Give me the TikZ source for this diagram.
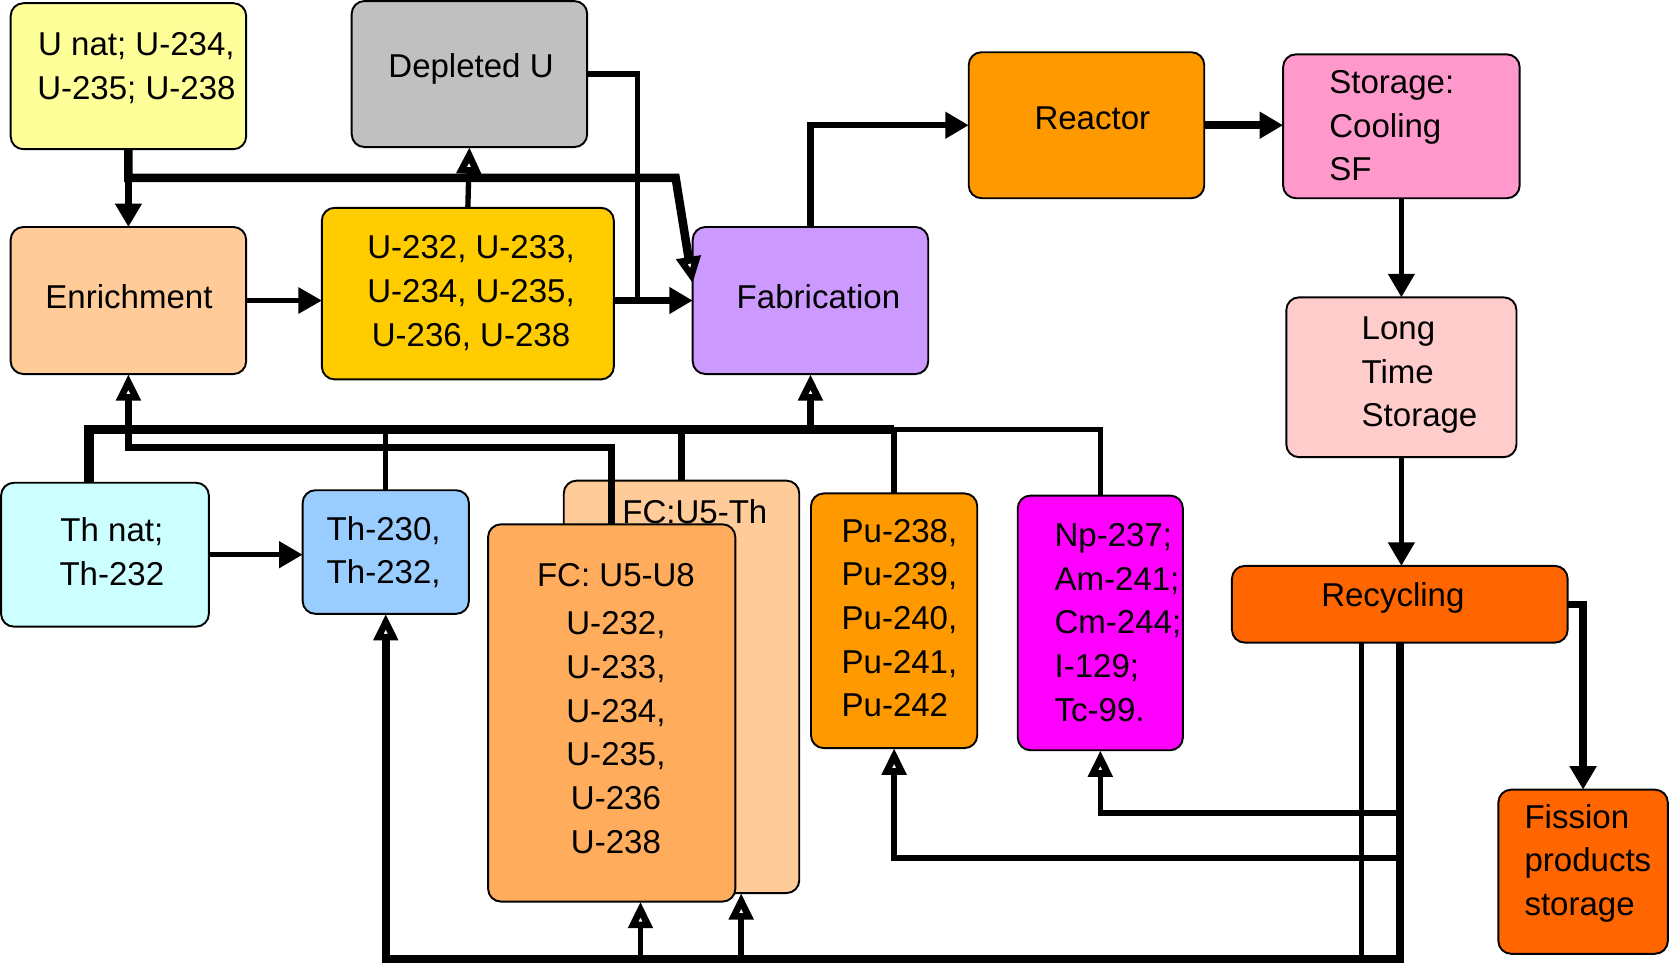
\documentclass[tikz,border=0pt]{standalone}
\usepackage{fontspec}
\setmainfont{Liberation Sans}
\usetikzlibrary{arrows.meta}
\definecolor{unatcol}{HTML}{FFFF99}
\definecolor{deplcol}{HTML}{C0C0C0}
\definecolor{enrichcol}{HTML}{FFCC99}
\definecolor{ucompcol}{HTML}{FFCC00}
\definecolor{fabcol}{HTML}{CC99FF}
\definecolor{reactcol}{HTML}{FF9900}
\definecolor{storecol}{HTML}{FF99CC}
\definecolor{longcol}{HTML}{FFCCCC}
\definecolor{recyccol}{HTML}{FF6600}
\definecolor{thnatcol}{HTML}{CCFFFF}
\definecolor{thcompcol}{HTML}{99CCFF}
\definecolor{fcthcol}{HTML}{FFCC99}
\definecolor{fcuucol}{HTML}{FFAD5C}
\definecolor{npcol}{HTML}{FF00FF}
\tikzset{box/.style={rectangle, rounded corners=12pt, draw=black, line width=1.8pt,
   inner sep=0pt, outer sep=0pt},
 flow/.style={line width=5pt, -{Triangle[length=22pt,width=24pt]}},
 feed/.style={line width=5pt, -{Triangle[open,line width=7pt,length=25pt,width=22pt]}},
 wire/.style={line width=5pt},
 }
\begin{document}
\begin{tikzpicture}[x=1pt,y=-1pt,font=\fontsize{31}{41}\selectfont]
\useasboundingbox (0,0) rectangle (1568,907);
% boxes
\node[box, fill=unatcol, minimum width=221pt, minimum height=137pt] (unat) at (120.5,71.5) {};
\node[box, fill=deplcol, minimum width=221pt, minimum height=137pt] (depl) at (440.5,69.5) {};
\node[box, fill=enrichcol, minimum width=221pt, minimum height=138pt] (enrich) at (120.5,282) {};
\node[box, fill=ucompcol, minimum width=274pt, minimum height=161pt] (ucomp) at (439,275.5) {};
\node[box, fill=fabcol, minimum width=221pt, minimum height=138pt] (fab) at (760.5,282) {};
\node[box, fill=reactcol, minimum width=221pt, minimum height=137pt] (reactor) at (1019.5,117.5) {};
\node[box, fill=storecol, minimum width=222pt, minimum height=135pt] (storage) at (1315,118.5) {};
\node[box, fill=longcol, minimum width=216pt, minimum height=150pt] (longst) at (1315,354) {};
\node[box, fill=recyccol, minimum width=315pt, minimum height=72pt] (recyc) at (1313.5,567) {};
\node[box, fill=recyccol, minimum width=159pt, minimum height=154pt] (fission) at (1485.5,818) {};
\node[box, fill=thnatcol, minimum width=195pt, minimum height=135pt] (thnat) at (98.5,520.5) {};
\node[box, fill=thcompcol, minimum width=156pt, minimum height=116pt] (thcomp) at (362,518) {};
\node[box, fill=fcthcol, minimum width=221pt, minimum height=387pt] (fcth) at (639.5,644.5) {};
\node[box, fill=fcuucol, minimum width=232pt, minimum height=354pt] (fcuu) at (574,669) {};
\node[box, fill=reactcol, minimum width=156pt, minimum height=239pt] (pu) at (839,582.5) {};
\node[box, fill=npcol, minimum width=155pt, minimum height=239pt] (np) at (1032.5,584.5) {};
% texts
\node[align=center] (unattxt) at (128,64) {U nat; U-234,\\U-235; U-238};
\node (depltxt) at (442,65) {Depleted U};
\node (enrichtxt) at (121,278) {Enrichment};
\node[align=center] (ucomptxt) at (442,275) {U-232, U-233,\\U-234, U-235,\\U-236, U-238};
\node (fabtxt) at (768,278) {Fabrication};
\node (reacttxt) at (1025,111) {Reactor};
\node[align=left] (storetxt) at (1306,118) {Storage:\\Cooling\\SF};
\node[align=left] (longtxt) at (1332,352) {Long\\Time\\Storage};
\node (recyctxt) at (1307,561) {Recycling};
\node[align=left] (fissiontxt) at (1490,810) {Fission\\products\\storage};
\node[align=center] (thnattxt) at (105,518) {Th nat;\\Th-232};
\node[align=center] (thcomptxt) at (360,518) {Th-230,\\Th-232,};
\node (fcthtxt) at (652,480) {FC:U5-Th};
\node[align=center] (fcuutxt) at (578,665) {FC: U5-U8\\[4pt]U-232,\\U-233,\\U-234,\\U-235,\\U-236\\U-238};
\node[align=left] (putxt) at (844,580) {Pu-238,\\Pu-239,\\Pu-240,\\Pu-241,\\Pu-242};
\node[align=left] (nptxt) at (1049,584) {Np-237;\\Am-241;\\Cm-244;\\I-129;\\Tc-99.};
% helper levels
\coordinate (ubend) at (634,167);
\coordinate (dj) at (598,282);
\coordinate (topbus) at (0,403);
\coordinate (lowbus) at (0,420);
\coordinate (nplevel) at (0,763);
\coordinate (pulevel) at (0,805);
\coordinate (bot) at (0,900);
\coordinate (fcuuin) at ([xshift=27pt]fcuu.south);
\coordinate (fcthin) at ([xshift=56pt]fcth.south);
\coordinate (recycout) at ([xshift=-36pt]recyc.south);
% uranium line
\draw[flow, line width=6pt] (unat.south) -- (enrich.north);
\draw[feed, line width=8pt] (unat.south) |- (ubend) -- ([yshift=16pt]fab.west);
\draw[flow, line width=4pt] (enrich.east) -- (enrich.east -| ucomp.west);
\draw[feed] (ucomp.north) -- (depl.south);
\draw[wire] (depl.east) -| (dj);
\draw[flow, line width=6pt] (ucomp.east |- fab.west) -- (fab.west);
\draw[flow, line width=6pt] (fab.north) |- (reactor.west);
\draw[flow, line width=8pt] (reactor.east) -- (reactor.east -| storage.west);
\draw[flow] (storage.south) -- (longst.north);
\draw[flow] (longst.south) -- (longst.south |- recyc.north);
\draw[flow, line width=7pt] (recyc.east) -| (fission.north);
\draw[flow] (thnat.east) -- (thnat.east -| thcomp.west);
% feeds to fabrication and enrichment
\draw[wire, line width=9pt] ([xshift=-15pt]thnat.north) |- (pu.north |- topbus);
\draw[wire] (pu.north |- topbus) -| (np.north);
\draw[wire] (thcomp.north) -- (thcomp.north |- topbus);
\draw[wire, line width=7pt] (fcth.north) -- (fcth.north |- topbus);
\draw[wire] (pu.north) -- (pu.north |- topbus);
\draw[feed, line width=7pt] (fab.south |- topbus) -- (fab.south);
\draw[feed, line width=7pt] (fcuu.north) |- (enrich.south |- lowbus) -- (enrich.south);
% recycling returns
\draw[feed, line width=7pt] (recyc.south) |- (thcomp.south |- bot) -- (thcomp.south);
\draw[wire] (recycout) -- (recycout |- bot);
\draw[feed] (fcuuin |- bot) -- (fcuuin);
\draw[feed, line width=6pt] (fcthin |- bot) -- (fcthin);
\draw[feed] (recyc.south |- pulevel) -| (pu.south);
\draw[feed] (recyc.south |- nplevel) -| (np.south);
\end{tikzpicture}
\end{document}
